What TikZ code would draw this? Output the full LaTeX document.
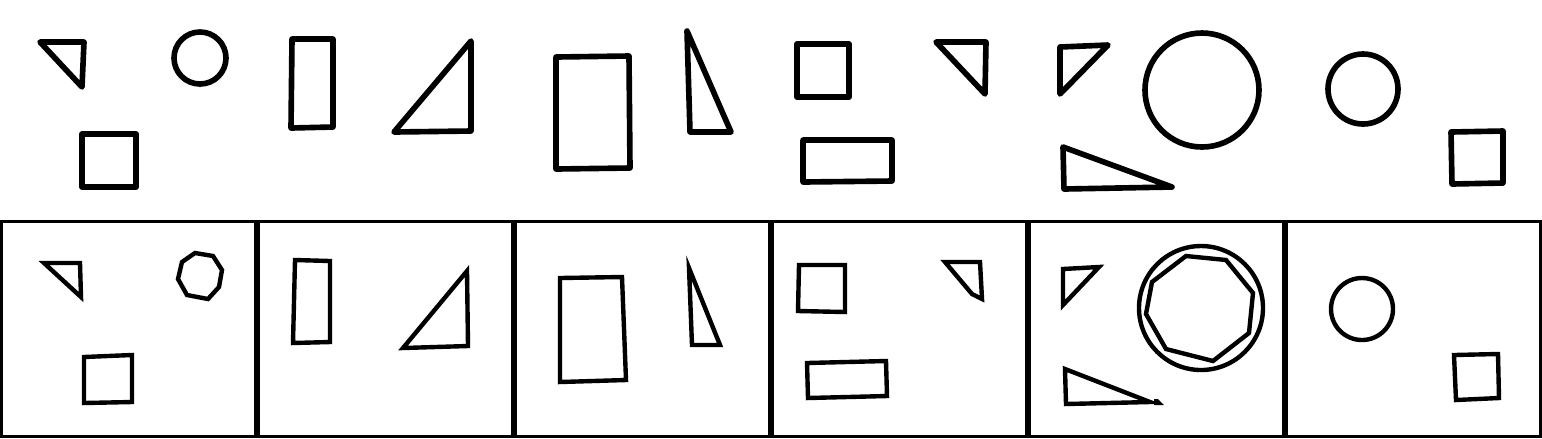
\documentclass[tikz,border=0pt]{standalone}
\usepackage{tikz}

\tikzset{
  topfig/.style={line width=1.6pt, line join=round},
  botfig/.style={line width=1.25pt},
  framebox/.style={line width=0.95pt}
}

\begin{document}
\begin{tikzpicture}[x=0.01cm, y=-0.01cm]
        \useasboundingbox (0,0) rectangle (1542,438);

        % Draw the top row of shapes
        \draw[topfig] (40,42) -- (84,42) -- (82,87) -- cycle;
        \draw[topfig] (200,58) circle (26);
        \draw[topfig] (82,134) rectangle (136,187);
        \draw[topfig] (292,39) -- (333,39) -- (333,127) -- (291,128) -- cycle;
        \draw[topfig] (471,41) -- (394,132) -- (471,131) -- cycle;
        \draw[topfig] (556,57) -- (629,56) -- (630,168) -- (556,169) -- cycle;
        \draw[topfig] (687,31) -- (690,132) -- (731,132) -- cycle;
        \draw[topfig] (797,44) rectangle (849,97);
        \draw[topfig] (803,140) -- (892,140) -- (892,181) -- (803,182) -- cycle;
        \draw[topfig] (936,42) -- (986,42) -- (985,94) -- cycle;
        \draw[topfig] (1060,47) -- (1108,45) -- (1060,94) -- cycle;
        \draw[topfig] (1063,147) -- (1172,187) -- (1064,189) -- cycle;
        \draw[topfig] (1202,90) circle (57);
        \draw[topfig] (1363,89) circle (35);
        \draw[topfig] (1451,132) -- (1503,131) -- (1503,183) -- (1452,184) -- cycle;

        % Draw the panels of the bottom row
        \foreach \i in {0,...,5} {
            \draw[framebox] (257*\i+1.5,221.5) rectangle (257*\i+255.5,436.5);
        }

        % Panel 1
        \draw[botfig] (44,263) -- (80,263) -- (81,297) -- cycle;
        \draw[botfig] (195,253) -- (213,256) -- (222,270) -- (219,287)
            -- (208,299) -- (187,295) -- (178,279) -- (182,262) -- cycle;
        \draw[botfig] (84,357) -- (132,355) -- (132,402) -- (84,403) -- cycle;

        % Panel 2
        \draw[botfig] (295,260) -- (330,261) -- (330,342) -- (293,343) -- cycle;
        \draw[botfig] (467,271) -- (403,348) -- (468,346) -- cycle;

        % Panel 3
        \draw[botfig] (560,278) -- (622,277) -- (626,380) -- (560,382) -- cycle;
        \draw[botfig] (689,268) -- (692,345) -- (720,345) -- cycle;

        % Panel 4
        \draw[botfig] (799,265) -- (845,265) -- (845,312) -- (798,311) -- cycle;
        \draw[botfig] (945,262) -- (980,262) -- (982,299) -- (972,294) -- cycle;
        \draw[botfig] (807,363) -- (886,361) -- (887,396) -- (808,398) -- cycle;

        % Panel 5
        \draw[botfig] (1063,269) -- (1099,267) -- (1063,305) -- cycle;
        \draw[botfig] (1201,308) circle (62);
        \draw[botfig] (1186,256) -- (1226,260) -- (1253,293) -- (1249,333)
            -- (1213,361) -- (1166,349) -- (1146,314) -- (1152,282) -- cycle;
        \draw[botfig] (1065,369) -- (1150,402) -- (1066,404) -- cycle;
        \fill (1154,399) -- (1158,399) -- (1164,405) -- (1154,405) -- cycle;

        % Panel 6
        \draw[botfig] (1362,309) circle (31);
        \draw[botfig] (1454,355) -- (1498,354) -- (1499,398) -- (1456,400) -- cycle;
    \end{tikzpicture}
\end{document}
